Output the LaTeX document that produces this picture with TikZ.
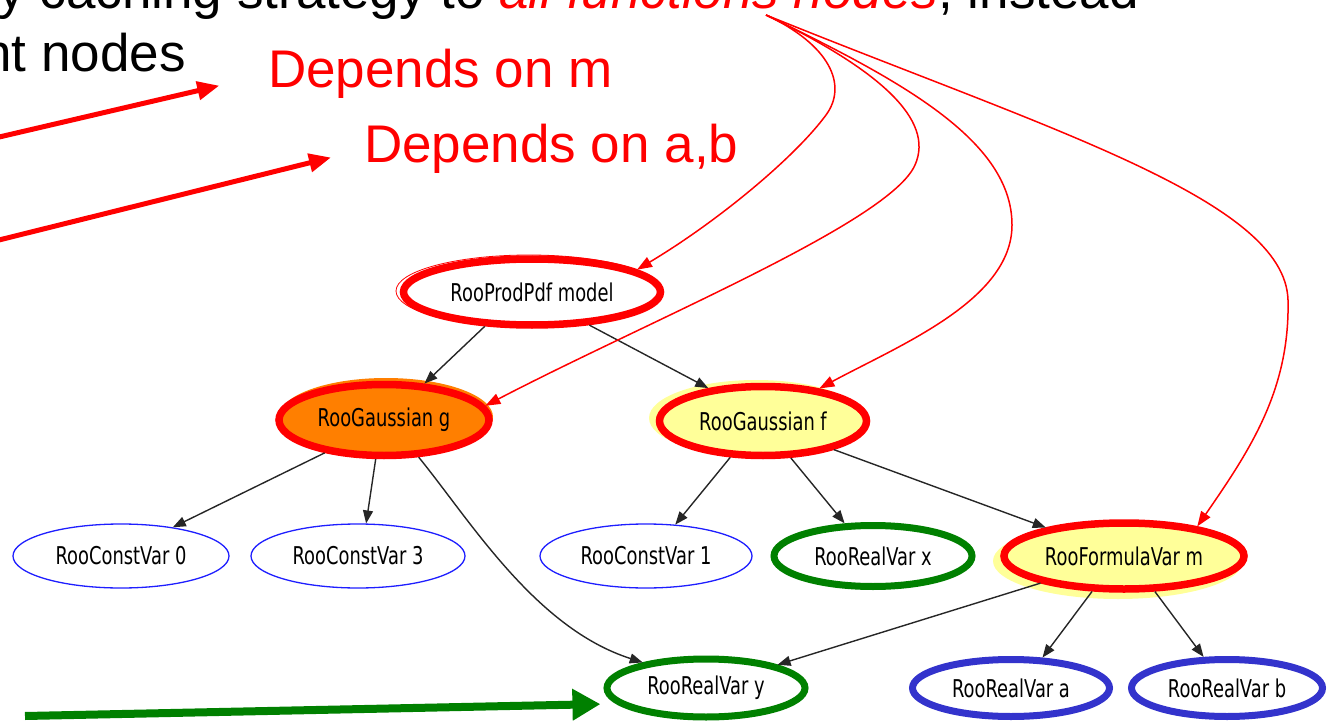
\documentclass[tikz,border=0pt]{standalone}
\usepackage{fontspec}
\setmainfont{Liberation Sans}
\newfontfamily\gvfont{DejaVu Sans}[FakeStretch=0.73]
\usetikzlibrary{shapes.geometric,arrows.meta}
\definecolor{gvred}{RGB}{255,0,0}
\definecolor{gvgreen}{RGB}{0,128,0}
\definecolor{gvblue}{RGB}{51,51,204}
\definecolor{gvthinblue}{RGB}{30,30,255}
\definecolor{gvorange}{RGB}{255,127,0}
\definecolor{gvyellow}{RGB}{255,255,153}
\begin{document}
\begin{tikzpicture}[x=1pt,y=-1pt,
  slidetext/.style={inner sep=0pt, font=\fontsize{53}{63}\selectfont},
  gv/.style={ellipse, inner sep=0pt, font=\gvfont\fontsize{24.5}{28}\selectfont, text=black},
  redring/.style={gv, draw=gvred, line width=7.5pt},
  greenring/.style={gv, draw=gvgreen, line width=7pt},
  bluering/.style={gv, draw=gvblue, line width=7pt},
  constvar/.style={gv, draw=gvthinblue, line width=1.3pt},
  halo/.style={ellipse, inner sep=0pt},
  edge/.style={draw=black!85, line width=1.4pt, -{Triangle[length=13pt,width=10pt]}},
  marker/.style={draw=gvred, line width=1.5pt, -{Triangle[length=15pt,width=11pt]}},
  bigred/.style={draw=gvred, line width=5pt, -{Triangle[length=22pt,width=18pt]}},
  biggreen/.style={draw=gvgreen, line width=8pt, -{Triangle[length=28pt,width=30pt]}}
]
\useasboundingbox (0,0) rectangle (1328,722);
\clip (0,0) rectangle (1328,722);

% slide text
\node[slidetext, anchor=base east] (line1) at (1139,9)
  {y caching strategy to \textcolor{gvred}{\itshape all functions nodes}, instead};
\node[slidetext, anchor=base east] (line2) at (186,72) {nt nodes};
\node[slidetext, anchor=base west, text=gvred] (dm) at (268,88) {Depends on m};
\node[slidetext, anchor=base west, text=gvred] (dab) at (364,163) {Depends on a,b};

% soft halos behind the filled nodes
\node[halo, fill=gvorange, minimum width=214pt, minimum height=78pt] (ghalo) at (386,417) {};
\node[halo, fill=gvyellow, minimum width=214pt, minimum height=76pt] (fhalo) at (756,418) {};
\node[halo, fill=gvyellow, minimum width=250pt, minimum height=76pt] (mhalo) at (1118,561) {};
\node[halo, draw=gvred, line width=0.8pt, minimum width=266pt, minimum height=72pt] (mghost) at (529,291) {};

% graph nodes
\node[redring, fill=white, minimum width=257pt, minimum height=66pt] (model) at (532,292) {RooProdPdf model};
\node[redring, fill=gvorange, minimum width=210pt, minimum height=71pt] (g) at (384,420) {RooGaussian g};
\node[redring, fill=gvyellow, minimum width=207pt, minimum height=69pt] (f) at (763,421) {RooGaussian f};
\node[constvar, minimum width=216pt, minimum height=64pt] (c0) at (121,556) {RooConstVar 0};
\node[constvar, minimum width=214pt, minimum height=64pt] (c3) at (358,556) {RooConstVar 3};
\node[constvar, minimum width=212pt, minimum height=64pt] (c1) at (646,556) {RooConstVar 1};
\node[greenring, fill=white, minimum width=198pt, minimum height=61pt] (x) at (873,556) {RooRealVar x};
\node[redring, fill=gvyellow, minimum width=240pt, minimum height=66pt] (m) at (1124,556) {RooFormulaVar m};
\node[greenring, fill=white, minimum width=198pt, minimum height=58pt] (y) at (706,688) {RooRealVar y};
\node[bluering, fill=white, minimum width=197pt, minimum height=57pt] (a) at (1011,688) {RooRealVar a};
\node[bluering, fill=white, minimum width=191pt, minimum height=57pt] (b) at (1227,688) {RooRealVar b};

% dependency edges
\draw[edge] (model.216) -- (g.42);
\draw[edge] (model.330) -- (f.149);
\draw[edge] (g.209) -- (c0.29);
\draw[edge] (g.258) -- (c3.76);
\draw[edge] (g.313) .. controls (470,520) and (535,628) .. (y.158);
\draw[edge] (f.228) -- (c1.47);
\draw[edge] (f.307) -- (x.131);
\draw[edge] (f.338) -- (m.160);
\draw[edge] (m.198) -- (y.18);
\draw[edge] (m.228) -- (a.44);
\draw[edge] (m.311) -- (b.127);

% markers from the highlighted words to the function nodes
\coordinate (o) at (766,15);
\draw[marker] (o) .. controls (830,45) and (848,85) .. (826,115)
  .. controls (796,156) and (720,220) .. (model.12);
\draw[marker] (o) .. controls (880,70) and (935,120) .. (915,165)
  .. controls (890,222) and (650,320) .. (g.8);
\draw[marker] (o) .. controls (900,80) and (1012,140) .. (1012,225)
  .. controls (1012,300) and (900,345) .. (f.30);
\draw[marker] (o) .. controls (1050,130) and (1285,200) .. (1288,300)
  .. controls (1290,390) and (1250,450) .. (m.22);

% pointer arrows
\coordinate (r1s) at (-5,138);
\coordinate (r2s) at (-5,241);
\coordinate (gs) at (25,716);
\draw[bigred, shorten >=50pt] (r1s) -- (dm.west);
\draw[bigred, shorten >=34pt] (r2s) -- (dab.west);
\draw[biggreen, shorten >=16pt] (gs) -- (y.190);
\end{tikzpicture}
\end{document}
